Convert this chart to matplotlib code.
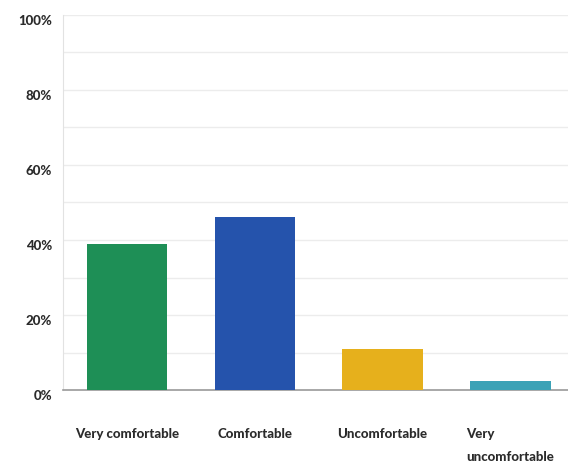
import matplotlib
matplotlib.use("Agg")
import matplotlib.pyplot as plt
from matplotlib.ticker import MultipleLocator, FuncFormatter
from matplotlib.transforms import ScaledTranslation

categories = ["Very comfortable", "Comfortable", "Uncomfortable", "Very\nuncomfortable"]
shares = [39, 46, 11, 2.4]
colors = ["#1e8f56", "#2553ac", "#e6b01c", "#3ba2b6"]

plt.rcParams["font.family"] = ["Lato", "DejaVu Sans"]

fig = plt.figure(figsize=(5.68, 4.66), dpi=100)
ax = fig.add_axes([0.111, 0.163, 0.889, 0.805])

x = list(range(len(categories)))
ax.bar(x, shares, width=0.63, color=colors, zorder=3)

ax.set_xlim(-0.5, 3.45)
ax.set_ylim(0, 100)
ax.yaxis.set_major_locator(MultipleLocator(20))
ax.yaxis.set_minor_locator(MultipleLocator(10))
ax.yaxis.set_major_formatter(FuncFormatter(lambda v, _: f"{v:.0f}%"))
ax.grid(axis="y", which="both", color="#ececec", linewidth=1.0, zorder=0)

for side in ("top", "right"):
    ax.spines[side].set_visible(False)
ax.spines["left"].set_color("#e2e2e2")
ax.spines["bottom"].set_color("#9a9a9a")
ax.spines["bottom"].set_linewidth(1.2)

ax.tick_params(axis="both", which="both", length=0)
ax.tick_params(axis="y", pad=8)
ax.tick_params(axis="x", pad=27)

ax.set_xticks(x)
ax.set_xticklabels(categories, multialignment="left", va="top", linespacing=2.1)
shift = ScaledTranslation(0, -5 / 100, fig.dpi_scale_trans)
for lbl in ax.get_yticklabels():
    lbl.set_transform(lbl.get_transform() + shift)
for lbl in ax.get_xticklabels() + ax.get_yticklabels():
    lbl.set_fontweight("black")
    lbl.set_fontsize(9.5)
    lbl.set_color("#2b2b2b")

fig.savefig("out.png", dpi=100, facecolor="white")
